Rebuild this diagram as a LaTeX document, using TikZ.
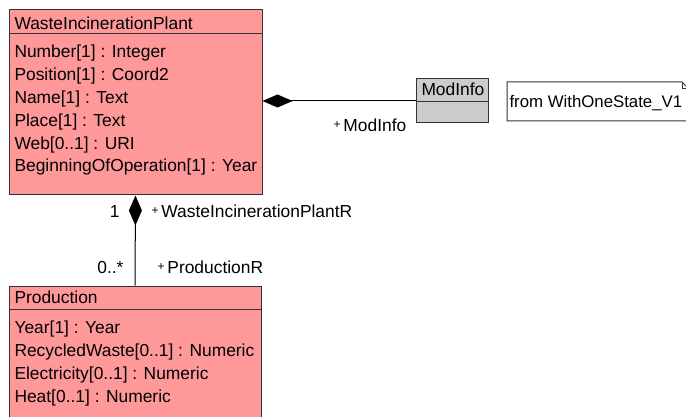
\documentclass[tikz,border=0pt]{standalone}
\usepackage{fontspec}
\setmainfont{Liberation Sans}
\usetikzlibrary{arrows.meta}
\definecolor{cpink}{HTML}{FF9999}
\definecolor{cgrey}{HTML}{CCCCCC}
\definecolor{cline}{HTML}{333333}
\newcommand{\rolep}{\raisebox{3pt}{\fontsize{12}{12}\selectfont+}\,}
\tikzset{
  every picture/.style={line width=1pt},
  cls/.style={draw=cline, fill=#1, minimum width=253pt, inner sep=0pt},
  cls/.default=cpink,
  txt/.style={anchor=base west, inner sep=0pt, font=\fontsize{17.4}{20}\selectfont},
  comp/.style={{Diamond[length=30pt, width=13pt]}-, draw=black},
}
\begin{document}
\begin{tikzpicture}[x=1pt, y=-1pt]
  \path[use as bounding box, fill=white] (0,0) rectangle (686,417);
  % the plant class
  \node[cls, minimum height=185pt] (wip) at (135.5,102.5) {};
  \draw[cline] (9,34) -- (262,34);
  \node[txt] (wipname) at (14,29.5) {WasteIncinerationPlant};
  \foreach \a [count=\i from 0] in {Number[1] : Integer, Position[1] : Coord2, Name[1] : Text, Place[1] : Text, Web[0..1] : URI, BeginningOfOperation[1] : Year}
    \node[txt] (wipa\i) at (14,{58+22.8*\i}) {\a};
  % the production class
  \node[cls, minimum width=252pt, minimum height=154pt] (prod) at (135,363) {};
  \draw[cline] (9,309) -- (261,309);
  \node[txt] (prodname) at (14,303.5) {Production};
  \foreach \a [count=\i from 0] in {Year[1] : Year, RecycledWaste[0..1] : Numeric, Electricity[0..1] : Numeric, Heat[0..1] : Numeric}
    \node[txt] (proda\i) at (14,{333+23*\i}) {\a};
  % ModInfo and its note
  \node[cls=cgrey, minimum width=72pt, minimum height=44pt] (mod) at (452,101) {};
  \draw[cline] (416,102) -- (488,102);
  \node[txt] (modname) at (421,96) {ModInfo};
  \draw[cline, fill=white] (507,82) -- (682,82) -- (692,92) -- (692,121) -- (507,121) -- cycle;
  \draw[cline] (682,82) -- (682,89) -- (689,89);
  \node[txt, font=\fontsize{16.8}{20}\selectfont] (note) at (509,108) {from WithOneState\_V1};
  % compositions
  \draw[comp] (wip.east |- mod.west) -- (mod.west);
  \draw[comp] (wip.south) -- (prod.north);
  \node[txt] (rmod) at (333,132) {\rolep ModInfo};
  \node[txt, anchor=base east] (mult1) at (120,218) {1};
  \node[txt] (rwip) at (151,218) {\rolep WasteIncinerationPlantR};
  \node[txt, anchor=base east] (mult0) at (124,273) {0..*};
  \node[txt] (rprod) at (157,273) {\rolep ProductionR};
\end{tikzpicture}
\end{document}
